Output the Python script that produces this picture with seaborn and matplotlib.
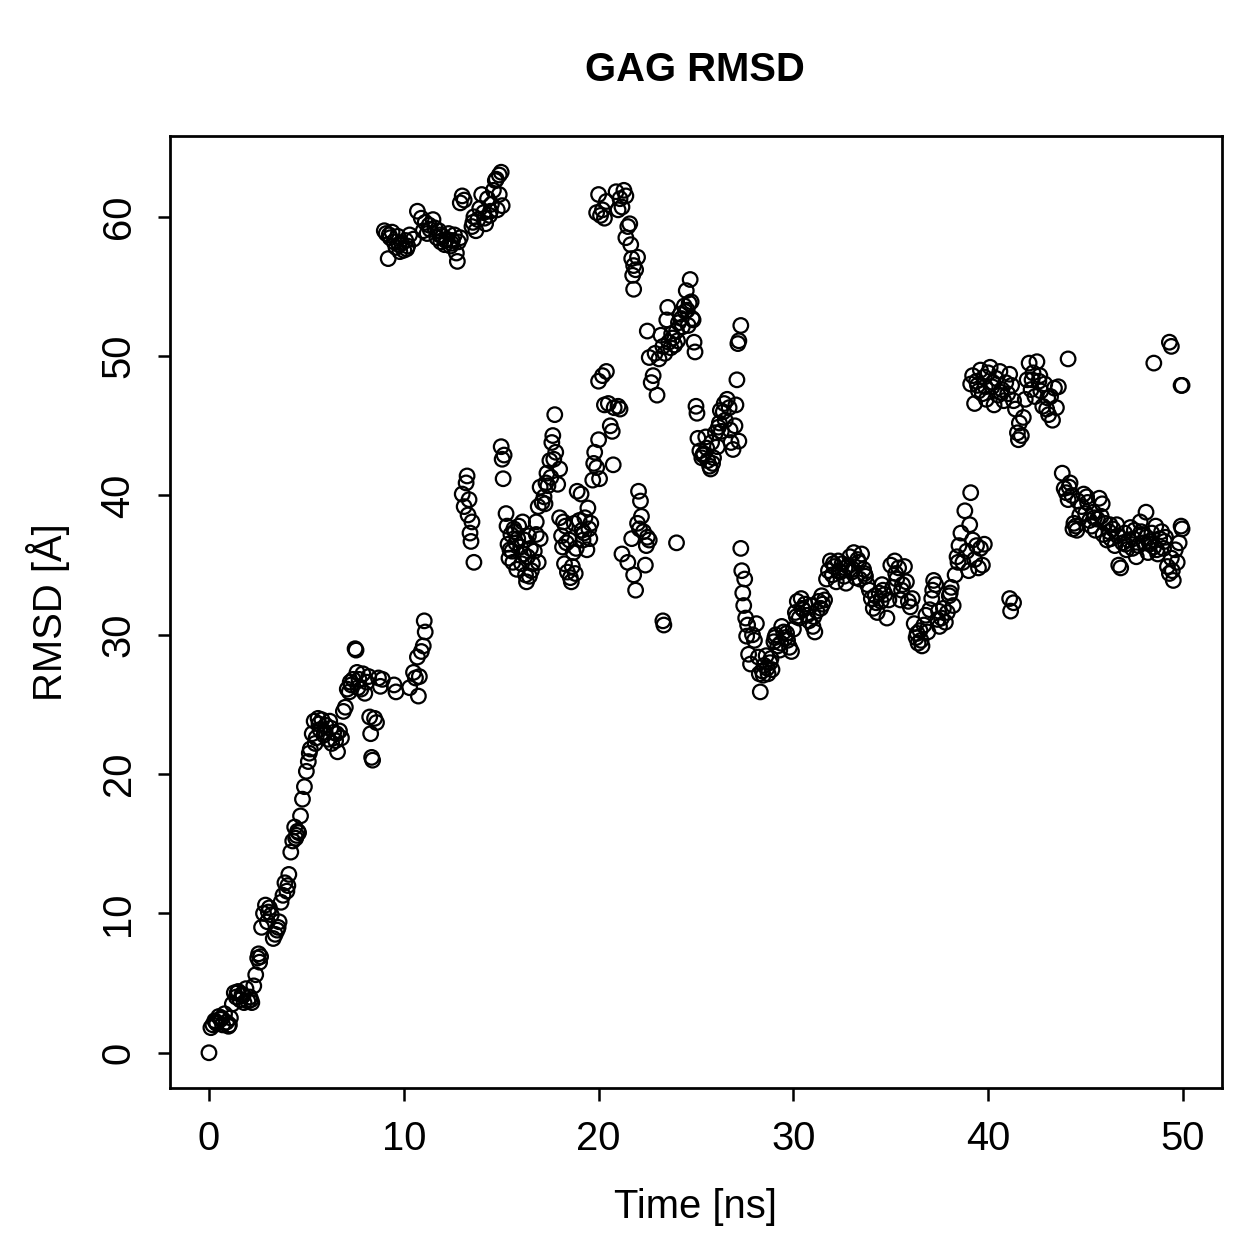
import matplotlib
matplotlib.use("Agg")
import matplotlib.pyplot as plt
import seaborn as sns
import pandas as pd

# ---- data (time in ns, RMSD in Angstrom) ----
t_rise = [0.0, 0.1, 0.2, 0.3, 0.4, 0.5, 0.6, 0.7, 0.8, 0.9, 1.0, 1.1, 1.2, 1.3, 1.4, 1.5, 1.6, 1.7, 1.8, 1.9,
          2.0, 2.1, 2.2, 2.3, 2.4, 2.5, 2.55, 2.6, 2.7, 2.8, 2.9, 3.0, 3.1, 3.2, 3.3, 3.4, 3.5, 3.6, 3.7, 3.8,
          3.9, 4.0, 4.1, 4.2, 4.3, 4.4, 4.5, 4.6, 4.7, 4.8, 4.9, 5.0, 5.1, 5.2, 5.3, 5.4, 5.5, 5.6, 5.7, 5.8,
          5.9, 6.0, 6.1, 6.2, 6.3, 6.4, 6.5, 6.6, 6.7, 6.8, 6.9, 7.0, 7.1, 7.2, 7.3, 7.4, 7.5, 7.55, 7.6, 7.7,
          7.8, 7.9, 8.0, 8.1, 8.2, 8.25, 8.3, 8.35, 8.4, 8.5, 8.6, 8.7, 8.8, 8.9, 9.5, 9.6,
          0.35, 0.65, 1.05, 1.45, 1.75, 2.15, 2.65, 3.05, 3.55, 4.05, 4.45, 4.55, 5.15, 5.45, 5.65, 5.95, 6.25, 6.55, 7.25, 7.65]
y_rise = [0.0, 1.8, 2.0, 2.3, 2.1, 2.6, 2.4, 2.0, 2.8, 2.2, 1.9, 2.5, 3.5, 4.3, 4.0, 4.4, 3.8, 4.2, 3.6, 4.6,
          3.7, 4.0, 3.6, 4.8, 5.6, 6.8, 7.1, 6.5, 9.0, 10.0, 10.6, 9.4, 10.4, 9.9, 8.2, 8.5, 8.8, 9.4, 10.8, 11.3,
          12.2, 11.6, 12.8, 14.4, 15.2, 16.2, 15.6, 15.8, 17.0, 18.2, 19.1, 20.2, 20.9, 21.8, 22.9, 23.8, 22.6, 24.0, 23.2, 23.9,
          22.8, 23.5, 22.5, 23.8, 22.2, 23.0, 22.4, 21.6, 23.1, 22.6, 24.5, 24.8, 26.1, 25.9, 26.4, 26.8, 29.0, 28.9, 27.3, 26.8,
          26.1, 27.2, 25.8, 26.6, 27.0, 24.1, 22.9, 21.2, 21.0, 24.0, 23.7, 26.9, 26.3, 26.8, 26.4, 25.9,
          2.2, 2.5, 2.0, 4.3, 4.1, 3.8, 6.9, 10.1, 9.0, 12.0, 15.4, 15.9, 21.5, 22.2, 23.6, 23.0, 23.3, 22.9, 26.6, 26.2]

t_top1 = [9.0, 9.1, 9.2, 9.3, 9.4, 9.5, 9.6, 9.7, 9.8, 9.9, 10.0, 10.1, 10.2, 10.3, 10.5, 10.7, 10.9, 11.0, 11.1, 11.2,
          11.3, 11.5, 11.6, 11.7, 11.8, 11.9, 12.0, 12.1, 12.2, 12.3, 12.4, 12.5, 12.6, 12.7, 12.75, 12.8, 12.9,
          12.9, 13.0, 13.1, 13.5, 13.6, 13.7, 13.8, 13.9, 14.0, 14.1, 14.2, 14.3, 14.4, 14.5, 14.6, 14.7, 14.8, 14.9,
          15.0, 15.05, 14.9, 14.75, 9.25, 9.75, 10.15, 11.35, 11.85, 12.15, 12.45, 13.55, 14.15, 14.45]
y_top1 = [59.0, 58.8, 57.0, 58.5, 58.9, 58.2, 57.8, 58.6, 57.5, 58.1, 57.6, 58.3, 57.9, 58.7, 58.4, 60.4, 59.9, 59.0, 59.6, 58.8,
          59.4, 59.8, 59.2, 58.5, 59.0, 58.2, 58.6, 58.0, 58.4, 58.8, 57.9, 58.3, 58.7, 57.4, 56.8, 58.2, 58.5,
          61.0, 61.5, 61.2, 59.3, 60.0, 59.0, 59.8, 60.6, 61.6, 60.3, 59.5, 61.3, 60.1, 60.9, 61.9, 62.6, 60.5, 61.6,
          63.2, 60.8, 63.0, 62.7, 58.7, 58.0, 57.7, 59.1, 58.7, 58.3, 58.1, 59.6, 59.9, 60.4]

t_mid1 = [10.3, 10.5, 10.6, 10.7, 10.75, 10.8, 10.9, 11.0, 11.1, 11.05,
          13.0, 13.1, 13.2, 13.25, 13.3, 13.35, 13.4, 13.45, 13.5, 13.6,
          15.0, 15.05, 15.1, 15.15,
          15.25, 15.3, 15.35, 15.4, 15.5, 15.55, 15.6, 15.7, 15.75, 15.8, 15.9, 16.0, 16.05, 16.1, 16.2, 16.25,
          16.3, 16.35, 16.4, 16.5, 16.55, 16.6, 16.7, 16.8, 16.9, 17.0,
          16.8, 16.9, 17.0, 17.1, 17.2, 17.3, 17.35, 17.4, 17.5, 17.55, 17.6, 17.65, 17.7, 17.75, 17.8, 17.9, 18.0,
          18.0, 18.1, 18.15, 18.2, 18.25, 18.3, 18.4, 18.5, 18.55, 18.6, 18.7, 18.75, 18.8, 18.85, 18.9, 19.0,
          19.1, 19.15, 19.2, 19.3, 19.4, 19.45, 19.5, 19.55, 19.6, 19.7, 19.75, 19.8, 19.9, 20.0, 20.05,
          15.45, 15.65, 15.85, 16.15, 16.45, 17.25, 18.35, 18.65, 19.25]
y_mid1 = [26.2, 27.3, 26.9, 28.4, 25.6, 27.0, 28.8, 29.2, 30.2, 31.0,
          40.1, 39.2, 40.9, 41.4, 38.6, 39.7, 37.3, 36.7, 38.1, 35.2,
          43.5, 42.6, 41.2, 42.9,
          38.7, 37.8, 36.5, 35.5, 37.2, 36.0, 35.2, 37.4, 36.6, 34.7, 37.8, 36.3, 35.1, 38.1, 36.8, 34.3,
          33.8, 35.6, 37.1, 36.2, 34.6, 35.1, 36.0, 37.2, 35.2, 36.9,
          38.1, 39.2, 40.6, 39.5, 39.9, 40.9, 41.6, 40.7, 42.5, 41.3, 43.8, 44.3, 42.6, 45.8, 43.1, 40.8, 41.9,
          38.4, 37.1, 36.3, 38.1, 35.1, 37.8, 34.5, 36.8, 34.1, 33.8, 35.9, 38.0, 34.4, 36.2, 40.3, 38.2,
          40.1, 37.5, 36.8, 38.4, 36.1, 39.1, 37.6, 36.9, 38.0, 41.1, 42.3, 43.1, 42.0, 44.0, 41.2,
          36.1, 37.6, 36.9, 35.8, 34.2, 39.4, 36.6, 34.9, 37.3]

t_mid2 = [20.0, 20.2, 20.3, 20.4, 20.5, 20.6, 20.7, 20.75, 20.8, 21.0, 21.1,
          21.2, 21.5, 21.7, 21.8, 21.9, 22.0, 22.05, 22.1, 22.15, 22.2, 22.3, 22.4, 22.45, 22.5, 22.6,
          23.3, 23.35, 24.0,
          22.5, 22.6, 22.7, 22.8, 22.9, 23.0, 23.1, 23.2, 23.3, 23.4, 23.5, 23.55, 23.6, 23.7, 23.8, 23.9,
          24.0, 24.1, 24.2, 24.3, 24.4, 24.5, 24.55, 24.6, 24.7, 24.75, 24.8, 24.9, 24.95, 24.85,
          23.75, 24.05, 24.25, 24.45, 24.65]
y_mid2 = [48.2, 48.6, 46.5, 48.9, 46.6, 45.0, 44.6, 42.2, 46.3, 46.4, 46.2,
          35.8, 35.2, 36.9, 34.3, 33.2, 38.0, 40.3, 37.6, 39.6, 38.5, 37.4, 35.0, 36.4, 37.0, 36.8,
          31.0, 30.7, 36.6,
          51.8, 49.9, 48.1, 48.6, 50.2, 47.2, 49.8, 51.5, 50.7, 50.2, 52.6, 53.5, 51.0, 50.6, 51.3, 50.8,
          51.8, 52.4, 53.0, 52.1, 53.6, 54.7, 53.3, 52.2, 55.5, 53.9, 52.7, 51.0, 50.3, 52.6,
          51.6, 51.1, 52.7, 53.2, 53.8]

t_top2 = [19.9, 20.0, 20.1, 20.2, 20.3, 20.4, 20.9, 21.0, 21.1, 21.2, 21.3, 21.4, 21.5, 21.4, 21.6, 21.65,
          21.7, 21.8, 21.75, 21.8, 21.9, 22.0]
y_top2 = [60.3, 61.6, 60.1, 60.5, 59.9, 61.1, 61.8, 60.5, 61.3, 60.7, 61.9, 61.5, 59.3, 58.5, 59.5, 58.0,
          57.0, 56.5, 55.8, 54.8, 56.2, 57.1]

t_mid3 = [25.0, 25.05, 25.1, 25.2, 25.3, 25.4, 25.5, 25.6, 25.7, 25.75, 25.8, 25.9, 26.0, 26.1, 26.2, 26.25,
          26.3, 26.4, 26.5, 26.6, 26.7, 26.8, 26.9, 27.0, 27.05, 27.1, 27.15, 27.2, 27.3, 27.2,
          25.35, 25.55, 25.85, 26.15, 26.45, 26.75]
y_mid3 = [46.4, 45.9, 44.1, 43.2, 42.7, 43.0, 44.2, 42.5, 42.1, 41.9, 43.8, 42.7, 44.5, 43.5, 45.2, 46.1,
          44.6, 46.0, 45.4, 46.9, 46.3, 43.8, 43.3, 45.0, 46.5, 48.3, 50.9, 51.1, 52.2, 43.9,
          42.9, 43.4, 42.3, 44.9, 46.6, 44.7]

t_low = [27.3, 27.35, 27.4, 27.5, 27.45, 27.55, 27.6, 27.65, 27.7, 27.8, 27.9, 28.0, 28.1, 28.2, 28.25, 28.3,
         28.4, 28.5, 28.6, 28.7, 28.8, 28.9, 29.0, 29.1, 29.2, 29.3, 29.4, 29.5, 29.6, 29.7, 29.8, 29.9,
         30.0, 30.1, 30.2, 30.3, 30.4, 30.5, 30.6, 30.7, 30.8, 30.9, 31.0, 31.1, 31.2, 31.3, 31.4, 31.5,
         31.6, 31.7, 31.8, 31.9, 32.0, 32.1, 32.2, 32.3, 32.4, 32.5, 32.6, 32.7, 32.8, 32.9, 33.0, 33.1,
         33.2, 33.3, 33.4, 33.5, 33.6, 33.7, 33.8, 33.9, 34.0, 34.1, 34.2, 34.3, 34.4, 34.5, 34.6, 34.7,
         34.8, 34.9, 35.0, 35.1, 35.2, 35.3, 35.4, 35.5, 35.6, 35.7, 35.8, 35.9, 36.0, 36.1, 36.2, 36.3,
         36.4, 36.5, 36.6, 36.7, 36.8, 36.9, 37.0, 37.1, 37.2, 37.3, 37.4, 37.5, 37.6, 37.7, 37.8, 37.9,
         38.0, 38.1, 38.2, 38.3, 38.4, 38.5, 38.6, 38.7, 38.8, 38.9, 39.0, 39.05, 39.1, 39.2, 39.3, 39.4,
         39.5, 39.6, 39.7, 39.8,
         28.45, 28.65, 28.85, 29.05, 29.35, 29.65, 30.15, 30.45, 31.05, 31.45, 32.05, 32.35, 32.65, 33.05,
         33.35, 33.65, 34.25, 34.55, 35.25, 35.55, 36.35, 36.55, 37.15, 37.45, 38.05, 38.45]
y_low = [36.2, 34.6, 33.0, 34.0, 32.1, 31.2, 29.9, 30.7, 28.6, 27.9, 30.0, 29.6, 30.8, 28.4, 27.2, 25.9,
         27.4, 27.8, 28.5, 27.2, 28.0, 27.5, 29.5, 30.0, 29.2, 28.9, 30.6, 30.2, 29.8, 29.6, 29.1, 28.8,
         30.4, 31.6, 32.4, 31.2, 32.6, 31.8, 32.2, 31.4, 31.0, 32.1, 30.6, 30.2, 31.7, 32.4, 31.9, 32.2,
         32.5, 34.0, 34.6, 35.3, 34.3, 34.9, 33.8, 35.3, 34.5, 35.1, 34.2, 33.7, 34.9, 35.6, 34.5, 35.9,
         34.1, 35.4, 34.0, 35.8, 34.7, 34.2, 33.6, 33.2, 32.6, 31.9, 32.8, 31.6, 33.0, 32.4, 33.2, 32.9,
         31.2, 32.5, 35.0, 33.4, 35.3, 34.0, 34.8, 32.5, 33.6, 34.9, 33.8, 32.4, 32.0, 32.6, 30.8, 29.8,
         29.4, 30.3, 29.2, 30.7, 31.4, 30.2, 31.8, 32.6, 33.9, 33.6, 31.1, 30.6, 31.2, 31.9, 30.9, 31.6,
         32.8, 33.4, 32.1, 34.3, 35.6, 36.4, 37.3, 35.2, 38.9, 36.0, 34.6, 37.9, 40.2, 36.8, 35.4, 36.4,
         34.8, 36.2, 35.0, 36.5,
         27.1, 27.6, 28.3, 29.8, 29.4, 30.1, 31.3, 31.9, 31.3, 32.8, 35.1, 34.6, 34.8, 34.7,
         35.2, 34.4, 32.3, 33.6, 34.4, 33.2, 30.1, 29.6, 33.2, 31.7, 33.0, 35.2]

t_top3 = [39.1, 39.2, 39.3, 39.4, 39.5, 39.6, 39.7, 39.8, 39.9, 40.0, 40.1, 40.2, 40.3, 40.4, 40.5, 40.6,
          40.7, 40.8, 40.9, 41.0, 41.1, 41.2, 41.3, 41.4, 41.5, 41.55, 41.6, 41.7, 41.8, 41.9, 42.0, 42.1,
          42.2, 42.3, 42.4, 42.5, 42.6, 42.7, 42.8, 42.9, 43.0, 43.1, 43.2, 43.3, 43.4, 43.5, 43.6, 44.1,
          41.1, 41.15, 41.3, 39.45, 39.85, 40.25, 40.65, 42.25, 42.65, 43.05]
y_top3 = [48.0, 48.6, 46.6, 48.2, 47.5, 49.0, 47.3, 48.5, 46.9, 48.8, 49.2, 47.8, 46.5, 48.4, 47.2, 48.9,
          47.6, 46.8, 48.1, 47.3, 48.7, 47.9, 46.8, 46.2, 44.5, 44.0, 45.2, 44.3, 45.6, 46.9, 48.3, 49.5,
          47.6, 48.8, 47.1, 49.6, 48.2, 47.5, 46.4, 48.0, 46.2, 45.8, 47.1, 45.4, 47.7, 46.3, 47.8, 49.8,
          32.6, 31.7, 32.3, 47.9, 47.8, 48.1, 47.4, 48.3, 48.6, 47.0]

t_tail = [43.8, 43.9, 44.0, 44.1, 44.2, 44.3, 44.35, 44.4, 44.5, 44.6, 44.7, 44.8, 44.9, 45.0, 45.1, 45.2,
          45.3, 45.4, 45.5, 45.6, 45.7, 45.8, 45.9, 46.0, 46.1, 46.2, 46.3, 46.4, 46.5, 46.6, 46.7, 46.8,
          46.9, 47.0, 47.1, 47.2, 47.3, 47.4, 47.5, 47.6, 47.7, 47.8, 47.9, 48.0, 48.1, 48.2, 48.3, 48.4,
          48.5, 48.6, 48.7, 48.8, 48.9, 49.0, 49.1, 49.2, 49.3, 49.4, 49.5, 49.6, 49.7, 49.8, 49.9, 49.95,
          48.1, 48.5, 49.3, 49.4, 49.9, 49.95,
          44.15, 44.55, 45.05, 45.45, 45.85, 46.25, 46.65, 47.05, 47.45, 47.85, 48.25, 48.65, 49.05, 49.45]
y_tail = [41.6, 40.5, 40.2, 39.7, 40.9, 40.0, 37.6, 38.0, 37.8, 39.6, 38.6, 39.2, 40.1, 38.7, 39.5, 38.2,
          37.8, 38.8, 37.5, 38.3, 39.8, 38.5, 37.2, 38.0, 36.8, 37.4, 36.9, 37.6, 36.4, 37.9, 35.0, 34.8,
          36.6, 37.3, 36.1, 36.8, 37.7, 36.2, 37.5, 35.6, 36.4, 38.1, 37.2, 36.6, 37.0, 35.9, 36.5, 37.3,
          36.3, 37.8, 35.8, 36.9, 37.4, 36.2, 37.0, 34.9, 34.4, 35.5, 33.9, 36.1, 35.2, 36.6, 37.8, 37.6,
          38.8, 49.5, 51.0, 50.7, 47.9, 47.9,
          40.6, 37.5, 39.9, 38.4, 39.4, 37.9, 37.1, 36.5, 36.9, 37.4, 36.7, 36.1, 36.7, 34.6]

time = t_rise + t_top1 + t_mid1 + t_mid2 + t_top2 + t_mid3 + t_low + t_top3 + t_tail
rmsd = y_rise + y_top1 + y_mid1 + y_mid2 + y_top2 + y_mid3 + y_low + y_top3 + y_tail
df = pd.DataFrame({"Time": time, "RMSD": rmsd})

sns.set_theme(style="white")
plt.rcParams["font.family"] = ["Liberation Sans", "DejaVu Sans"]

fig = plt.figure(figsize=(1259 / 180, 1259 / 180), dpi=180)
ax = fig.add_axes([170 / 1259, 1 - 1088 / 1259, (1222 - 170) / 1259, (1088 - 136) / 1259])

sns.scatterplot(data=df, x="Time", y="RMSD", ax=ax, marker="o", s=34,
                facecolor="none", edgecolor="black", linewidth=0.9, legend=False)

ax.set_xlim(-2.0, 52.0)
ax.set_ylim(-2.53, 65.8)
ax.set_xticks([0, 10, 20, 30, 40, 50])
ax.set_yticks([0, 10, 20, 30, 40, 50, 60])
ax.tick_params(axis="both", direction="out", length=5, width=1.0, color="black",
               labelsize=16, labelcolor="black", pad=8, bottom=True, left=True)
for lab in ax.get_yticklabels():
    lab.set_rotation(90)
    lab.set_va("center")
for sp in ax.spines.values():
    sp.set_visible(True)
    sp.set_color("black")
    sp.set_linewidth(1.1)

ax.set_xlabel("Time [ns]", fontsize=16, color="black", labelpad=12)
ax.set_ylabel("RMSD [Å]", fontsize=16, color="black", labelpad=12)
fig.text(0.552, 1 - 70 / 1259, "GAG RMSD", ha="center", va="center",
         fontsize=16, fontweight="bold", color="black")

fig.savefig("out.png", dpi=180, facecolor="white")
